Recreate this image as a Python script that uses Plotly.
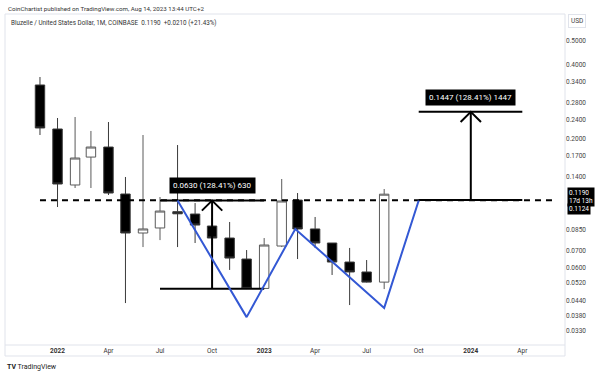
import math
import pandas as pd
import plotly.graph_objects as go

# ---------------- data ----------------
MONTHS = ["2021-12-01", "2022-01-01", "2022-02-01", "2022-03-01", "2022-04-01",
          "2022-05-01", "2022-06-01", "2022-07-01", "2022-08-01", "2022-09-01",
          "2022-10-01", "2022-11-01", "2022-12-01", "2023-01-01", "2023-02-01",
          "2023-03-01", "2023-04-01", "2023-05-01", "2023-06-01", "2023-07-01",
          "2023-08-01"]
OPEN = [0.3311, 0.2192, 0.1297, 0.1685, 0.1851, 0.1192, 0.0827, 0.0867, 0.1010, 0.0988,
        0.0883, 0.0789, 0.0648, 0.0492, 0.0732, 0.1126, 0.0859, 0.0753, 0.0630, 0.0574,
        0.0522]
HIGH = [0.3568, 0.2430, 0.2453, 0.2152, 0.2340, 0.1398, 0.2072, 0.1159, 0.1886, 0.1095,
        0.0952, 0.0917, 0.0705, 0.0789, 0.1372, 0.1203, 0.0961, 0.0753, 0.0719, 0.0642,
        0.1249]
LOW = [0.2072, 0.1055, 0.1261, 0.1261, 0.1181, 0.0429, 0.0725, 0.0774, 0.0725, 0.0753,
       0.0739, 0.0585, 0.0489, 0.0489, 0.0725, 0.0648, 0.0719, 0.0558, 0.0421, 0.0520,
       0.0489]
CLOSE = [0.2213, 0.1309, 0.1670, 0.1851, 0.1203, 0.0827, 0.0859, 0.1016, 0.0990, 0.0891,
         0.0789, 0.0654, 0.0492, 0.0739, 0.1116, 0.0859, 0.0753, 0.0630, 0.0574, 0.0522,
         0.1190]

# W pattern (blue line)
W_DATES = ["2022-08-01", "2022-12-01", "2023-02-25", "2023-08-01", "2023-10-01"]
W_PRICES = [0.1121, 0.0376, 0.0859, 0.0410, 0.1121]

# neckline (dashed)
NECK_DATES = ["2021-12-01", "2024-06-01"]
NECK_PRICE = 0.1124

# measurement 1
M1_DATES = ["2022-07-01", "2023-01-01"]
M1_ARROW_DATE = "2022-10-01"
M1_LOW, M1_HIGH = 0.0491, 0.1121
M1_LABEL = "0.0630 (128.41%) 630"

# measurement 2 (projection)
M2_DATES = ["2023-10-01", "2024-04-01"]
M2_ARROW_DATE = "2024-01-01"
M2_LOW, M2_HIGH = 0.1127, 0.2574
M2_LABEL = "0.1447 (128.41%) 1447"

Y_TICKS = [0.5, 0.4, 0.34, 0.28, 0.24, 0.2, 0.17, 0.14, 0.085, 0.07, 0.06,
           0.052, 0.044, 0.038, 0.033]
X_TICKS = ["2022-01-01", "2022-04-01", "2022-07-01", "2022-10-01", "2023-01-01",
           "2023-04-01", "2023-07-01", "2023-10-01", "2024-01-01", "2024-04-01"]
X_TICK_TEXT = ["<b>2022</b>", "Apr", "Jul", "Oct", "<b>2023</b>", "Apr", "Jul", "Oct",
               "<b>2024</b>", "Apr"]

LAST_PRICE = 0.1190
LINE_PRICE = 0.1124
COUNTDOWN = "17d 13h"

HEADER1 = "CoinChartist published on TradingView.com, Aug 14, 2023 13:44 UTC+2"
HEADER2 = "Bluzelle / United States Dollar, 1M, COINBASE  0.1190  +0.0210 (+21.43%)"

# ---------------- styles ----------------
FONT = "Roboto, Liberation Sans, Arial, sans-serif"
BLUE = "#3358D4"
GRID = "#E0E3EB"
HEAD_DAYS = 18
HEAD_FACTOR = 0.91

fig = go.Figure()

fig.add_trace(go.Candlestick(
    x=MONTHS, open=OPEN, high=HIGH, low=LOW, close=CLOSE,
    increasing=dict(line=dict(color="#5a5a5a", width=1), fillcolor="#FFFFFF"),
    decreasing=dict(line=dict(color="#3a3a3a", width=1), fillcolor="#000000"),
    whiskerwidth=0, hoverinfo="skip", showlegend=False,
))

# dashed neckline
fig.add_trace(go.Scatter(x=NECK_DATES, y=[NECK_PRICE, NECK_PRICE], mode="lines",
                         line=dict(color="#000000", width=2, dash="6px,5px"),
                         hoverinfo="skip", showlegend=False))

def measure(dates, arrow_date, low, high):
    ad = pd.Timestamp(arrow_date)
    dx = pd.Timedelta(days=HEAD_DAYS)
    for p in (low, high):
        fig.add_trace(go.Scatter(x=dates, y=[p, p], mode="lines",
                                 line=dict(color="#000000", width=2),
                                 hoverinfo="skip", showlegend=False))
    fig.add_trace(go.Scatter(x=[ad, ad], y=[low, high], mode="lines",
                             line=dict(color="#000000", width=2),
                             hoverinfo="skip", showlegend=False))
    fig.add_trace(go.Scatter(x=[ad - dx, ad, ad + dx],
                             y=[high * HEAD_FACTOR, high, high * HEAD_FACTOR],
                             mode="lines", line=dict(color="#000000", width=2),
                             hoverinfo="skip", showlegend=False))

measure(M1_DATES, M1_ARROW_DATE, M1_LOW, M1_HIGH)
measure(M2_DATES, M2_ARROW_DATE, M2_LOW, M2_HIGH)

# W pattern
fig.add_trace(go.Scatter(x=W_DATES, y=W_PRICES, mode="lines",
                         line=dict(color=BLUE, width=2),
                         hoverinfo="skip", showlegend=False))

annotations = [
    dict(text=M1_LABEL, x=M1_ARROW_DATE, y=math.log10(M1_HIGH), xref="x", yref="y",
         yanchor="bottom", xanchor="center", yshift=7, showarrow=False,
         bgcolor="#000000", borderpad=3, font=dict(color="#FFFFFF", size=8, family=FONT)),
    dict(text=M2_LABEL, x=M2_ARROW_DATE, y=math.log10(M2_HIGH), xref="x", yref="y",
         yanchor="bottom", xanchor="center", yshift=6, showarrow=False,
         bgcolor="#000000", borderpad=3, font=dict(color="#FFFFFF", size=8, family=FONT)),
    dict(text=f"{LAST_PRICE:.4f}<br>{COUNTDOWN}", x=1.004, y=math.log10(LAST_PRICE),
         xref="paper", yref="y", xanchor="left", yanchor="middle", yshift=-3,
         showarrow=False, bgcolor="#000000", borderpad=1, align="left",
         font=dict(color="#FFFFFF", size=6.5, family=FONT)),
    dict(text=f"{LINE_PRICE:.4f}", x=1.004, y=math.log10(LINE_PRICE),
         xref="paper", yref="y", xanchor="left", yanchor="middle", yshift=-9,
         showarrow=False, bgcolor="#000000", borderpad=1,
         font=dict(color="#FFFFFF", size=6.5, family=FONT)),
    dict(text="USD", x=1.006, y=0.980, xref="paper", yref="paper", xanchor="left",
         yanchor="middle", showarrow=False, bgcolor="#FFFFFF", bordercolor=GRID,
         borderwidth=1, borderpad=2, font=dict(color="#444444", size=6.5, family=FONT)),
    dict(text=HEADER1, x=0.0018, y=1.015, xref="paper", yref="paper", xanchor="left",
         yanchor="middle", showarrow=False, font=dict(color="#333333", size=6.2, family=FONT)),
    dict(text=HEADER2, x=0.0071, y=0.9728, xref="paper", yref="paper", xanchor="left",
         yanchor="middle", showarrow=False, font=dict(color="#333333", size=6.3, family=FONT)),
    dict(text="<b>TV</b> TradingView", x=0.0, y=-0.0665, xref="paper", yref="paper",
         xanchor="left", yanchor="middle", showarrow=False,
         font=dict(color="#222222", size=7, family=FONT)),
]

frame = dict(type="line", xref="paper", yref="paper", line=dict(color=GRID, width=1))
shapes = [
    dict(frame, x0=0, x1=1.0, y0=1, y1=1),
    dict(frame, x0=0, x1=0, y0=1, y1=-0.0332),
    dict(frame, x0=0, x1=1.0, y0=0, y1=0),
    dict(frame, x0=0, x1=1.0, y0=-0.0332, y1=-0.0332),
    dict(frame, x0=1.0, x1=1.0, y0=1, y1=-0.0332),
]

fig.update_layout(
    width=602, height=375,
    margin=dict(l=5, r=37, t=14, b=30),
    paper_bgcolor="#FFFFFF", plot_bgcolor="#FFFFFF",
    font=dict(family=FONT, size=6.5, color="#444444"),
    showlegend=False,
    boxgap=0.15,
    annotations=annotations,
    shapes=shapes,
    xaxis=dict(type="date", range=["2021-09-30 05:00", "2024-06-15 10:00"],
               tickmode="array", tickvals=X_TICKS, ticktext=X_TICK_TEXT,
               showgrid=False, zeroline=False, showline=False, ticks="",
               tickfont=dict(size=6.5, color="#333333", family=FONT),
               rangeslider=dict(visible=False), fixedrange=True),
    yaxis=dict(type="log", range=[-1.5383, -0.1911], side="right",
               tickmode="array", tickvals=Y_TICKS,
               ticktext=[f"{v:.4f}" for v in Y_TICKS],
               showgrid=False, zeroline=False, showline=False, ticks="",
               tickfont=dict(size=6.5, color="#444444", family=FONT),
               fixedrange=True),
)

fig.write_html(
    "out.html",
    config={"displayModeBar": False},
    post_script="document.body.style.margin='0';document.body.style.overflow='hidden';",
)
